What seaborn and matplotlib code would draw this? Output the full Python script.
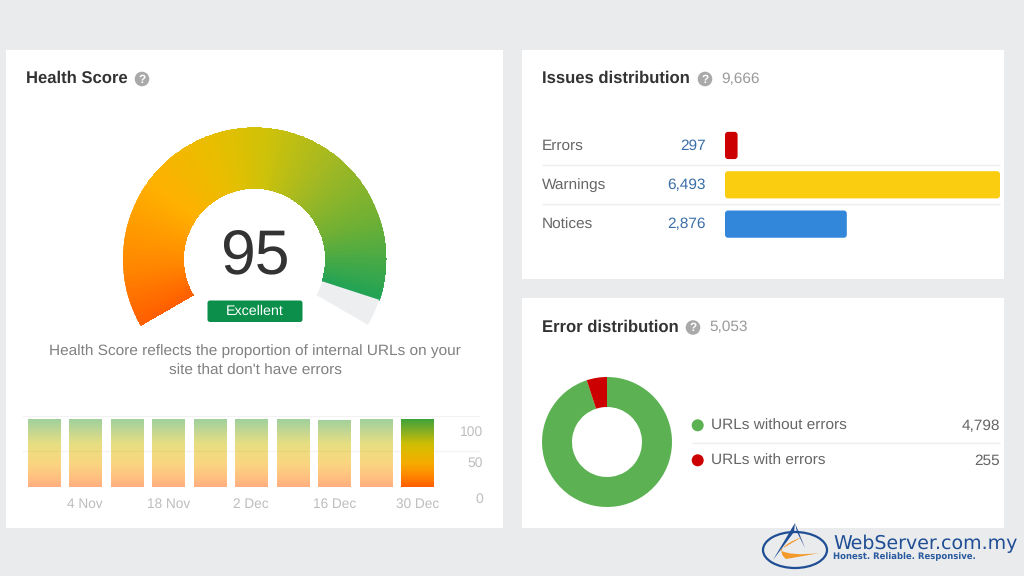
import matplotlib
matplotlib.use('Agg')
import matplotlib.pyplot as plt
import seaborn as sns
import numpy as np
from matplotlib.colors import LinearSegmentedColormap
from matplotlib.patches import Rectangle, FancyBboxPatch, Circle, Ellipse, Polygon, PathPatch
from matplotlib.path import Path
from matplotlib.transforms import ScaledTranslation

W, H = 1024, 576

score = 95
score_max = 100

history_dates = ['28 Oct', '4 Nov', '11 Nov', '18 Nov', '25 Nov', '2 Dec', '9 Dec', '16 Dec', '23 Dec', '30 Dec']
history_scores = [95, 95, 95, 95, 95, 95, 95, 94, 95, 95]
history_ticks = [1, 3, 5, 7, 9]

issue_names = ['Errors', 'Warnings', 'Notices']
issue_values = [297, 6493, 2876]
issue_total = 9666
issue_colors = ['#CC0000', '#FBCD10', '#3387DA']

error_names = ['URLs without errors', 'URLs with errors']
error_values = [4798, 255]
error_total = 5053
error_colors = ['#5CB253', '#CC0000']

sns.set_theme(style='white')
plt.rcParams['font.family'] = ['Liberation Sans', 'DejaVu Sans']
plt.rcParams['text.hinting'] = 'none'

fig = plt.figure(figsize=(W / 100, H / 100), dpi=100, facecolor='#E9EBED')


def px_axes(x0, y0, x1, y1, **kw):
    a = fig.add_axes([x0 / W, 1 - y1 / H, (x1 - x0) / W, (y1 - y0) / H], **kw)
    a.patch.set_alpha(0)
    return a


def label(x, y, s, px=15.45, color='#666666', ha='left', **kw):
    bg.text(x, y + 1, s, fontsize=px * 0.72, color=color, ha=ha, va='center', **kw)


def help_icon(x, y):
    bg.add_patch(Circle((x, y), 7.3, color='#A9A9A9', lw=0))
    bg.text(x, y + 0.5, '?', fontsize=8.5, color='white', fontweight='bold', ha='center', va='center')


def sep(x0, x1, y):
    bg.plot([x0, x1], [y, y], color='#EEEEEE', lw=1, solid_capstyle='butt')


# background with the cards
bg = px_axes(0, 0, W, H)
bg.set_xlim(0, W)
bg.set_ylim(H, 0)
bg.axis('off')
for x0, y0, x1, y1 in [(6, 50, 503, 528), (522, 50, 1004, 279), (522, 298, 1004, 528)]:
    bg.add_patch(Rectangle((x0, y0), x1 - x0, y1 - y0, color='white', lw=0))

# titles
label(26, 77.5, 'Health Score', px=16.65, color='#333333', fontweight='bold')
help_icon(142, 79)
label(541.5, 77.5, 'Issues distribution', px=16.65, color='#333333', fontweight='bold')
help_icon(705, 79)
label(721, 78, f'{issue_total:,}', color='#999999')
label(541.5, 326.5, 'Error distribution', px=16.65, color='#333333', fontweight='bold')
help_icon(693, 327.5)
label(709, 326.5, f'{error_total:,}', color='#999999')

# gauge
gauge_cmap = LinearSegmentedColormap.from_list('gauge', [
    (0.0, '#FF5F00'), (0.12, '#FF8A00'), (0.27, '#FFB000'), (0.42, '#E8BE00'),
    (0.52, '#D0C208'), (0.65, '#A6B921'), (0.8, '#6FB034'), (0.95, '#22A355'), (1.0, '#1FA058')])
cx, cy, R, r_in = 254.5, 259.3, 131, 71.5
gauge = px_axes(cx - R - 1, cy - R - 1, cx + R + 1, cy + R + 1, projection='polar')
gauge.set_axis_off()
to_theta = lambda s: np.radians(210 - np.asarray(s) * 240 / score_max)
steps = np.arange(0, score + 0.25, 0.25)
tt, rr = np.meshgrid(to_theta(steps), [r_in, R])
gauge.pcolormesh(tt, rr, steps[:-1].reshape(1, -1), cmap=gauge_cmap, vmin=0, vmax=score_max,
                 shading='flat', edgecolors='face', linewidth=0.2)
rest = to_theta([score, score_max])
gauge.bar(rest.mean(), R - r_in, width=abs(rest[0] - rest[1]), bottom=r_in, color='#ECEEF0', lw=0)
gauge.set_ylim(0, R + 1)

bg.text(cx, 258.5, str(score), fontsize=45, color='#333333', ha='center', va='center')
bg.add_patch(FancyBboxPatch((207.5, 300.5), 95, 21.5, boxstyle='round,pad=0,rounding_size=2.5',
                            fc='#0B8F4B', ec='none'))
label(255, 310.5, 'Excellent', px=14.2, color='white', ha='center')
label(255, 350.5, 'Health Score reflects the proportion of internal URLs on your', color='#808080', ha='center')
label(255, 369.5, "site that don't have errors", color='#808080', ha='center')

# history bars
hist = px_axes(23, 415.5, 480, 487)
sns.barplot(x=history_dates, y=history_scores, color='#FFFFFF', width=0.775, ax=hist)
hist_cmap = LinearSegmentedColormap.from_list('hist', [
    (0.0, '#FF5F00'), (0.18, '#FF8A00'), (0.35, '#F5AC00'), (0.52, '#E0B800'),
    (0.64, '#CDBE05'), (0.8, '#8FB020'), (1.0, '#3FA33A')])
grad = np.linspace(0, 1, 200).reshape(-1, 1)
for i, bar in enumerate(hist.patches):
    x, y, w, h = bar.get_x(), bar.get_y(), bar.get_width(), bar.get_height()
    im = hist.imshow(grad, extent=(x, x + w, y, y + h), origin='lower', aspect='auto', cmap=hist_cmap,
                     alpha=1 if i == len(hist.patches) - 1 else 0.5, zorder=2)
    im.set_clip_path(bar)
    bar.set_facecolor('none')
hist.set_xlim(-0.5, 10.51)
hist.set_ylim(0, 100)
hist.set_ylabel('')
hist.set_xticks(history_ticks, [history_dates[i] for i in history_ticks])
hist.set_yticks([0, 50, 100])
hist.yaxis.tick_right()
hist.grid(axis='y', color='#F2F2F2', lw=0.9)
hist.set_axisbelow(True)
hist.tick_params(axis='x', length=0, pad=8, labelsize=9.8, labelcolor='#BDBDBD')
hist.tick_params(axis='y', length=0, pad=2, labelsize=10, labelcolor='#BDBDBD')
for tl, dy in zip(hist.get_yticklabels(), [11, 10.5, 15]):
    tl.set_ha('right')
    tl.set_transform(tl.get_transform() + ScaledTranslation(0, -dy / 100, fig.dpi_scale_trans))
sns.despine(ax=hist, left=True, bottom=True, right=True)

# issues distribution
issues = px_axes(725, 125.8, 1000, 243.8)
sns.barplot(x=issue_values, y=issue_names, hue=issue_names, palette=issue_colors, legend=False,
            width=27 / 39, saturation=1, orient='h', ax=issues)
issues.set_xlim(0, max(issue_values))
issues.set_ylim(2.5, -0.5)
for bar in list(issues.patches):
    x, y, w, h = bar.get_x(), bar.get_y(), bar.get_width(), bar.get_height()
    s = 3 * max(issue_values) / 275
    issues.add_patch(FancyBboxPatch((x, y), w, h, boxstyle=f'round,pad=0,rounding_size={s}',
                                    mutation_aspect=(3 / 39) / s, fc=bar.get_facecolor(), ec='none'))
    bar.set_visible(False)
issues.axis('off')
for name, val, y in zip(issue_names, issue_values, [144.5, 184, 223.5]):
    label(541.5, y, name)
    label(706, y, f'{val:,}', color='#3B6EA8', ha='right')
sep(541.5, 1000, 164.5)
sep(541.5, 1000, 203.5)

# error distribution
donut = px_axes(607 - 65, 442 - 65, 607 + 65, 442 + 65)
donut.pie(error_values, colors=error_colors, startangle=90, counterclock=False, radius=1,
          wedgeprops={'width': 30 / 65, 'linewidth': 0})
donut.set_xlim(-1, 1)
donut.set_ylim(-1, 1)
for name, val, col, y in zip(error_names, error_values, error_colors, [425.3, 460.3]):
    bg.add_patch(Circle((697.7, y), 6, color=col, lw=0))
    label(711, y, name)
    label(1000, y, f'{val:,}', ha='right')
sep(692, 1000, 443)

# logo
logo_blue = '#1F4E94'
bg.add_patch(Ellipse((795, 550), 64, 36, fc='none', ec=logo_blue, lw=1.6))
bg.add_patch(Polygon([(795, 523), (773, 560), (794, 532)], color=logo_blue, lw=0))
bg.add_patch(Polygon([(795, 523), (805, 548), (797, 532)], color=logo_blue, lw=0))
swoosh = Path([(802, 537), (772, 548), (786, 559), (820, 553), (790, 556.5), (780, 550), (802, 537)],
              [Path.MOVETO, Path.CURVE3, Path.CURVE3, Path.LINETO, Path.CURVE3, Path.CURVE3, Path.LINETO])
bg.add_patch(PathPatch(swoosh, fc='#F39A2B', ec='none'))
bg.text(833, 543.5, 'WebServer.com.my', fontsize=13.65, color=logo_blue, va='center', family='DejaVu Sans')
bg.text(833, 556.5, 'Honest. Reliable. Responsive.', fontsize=6.15, color='#2A5A9E', va='center',
        family='DejaVu Sans', fontweight='bold')

fig.savefig('out.png', dpi=100, facecolor=fig.get_facecolor())
